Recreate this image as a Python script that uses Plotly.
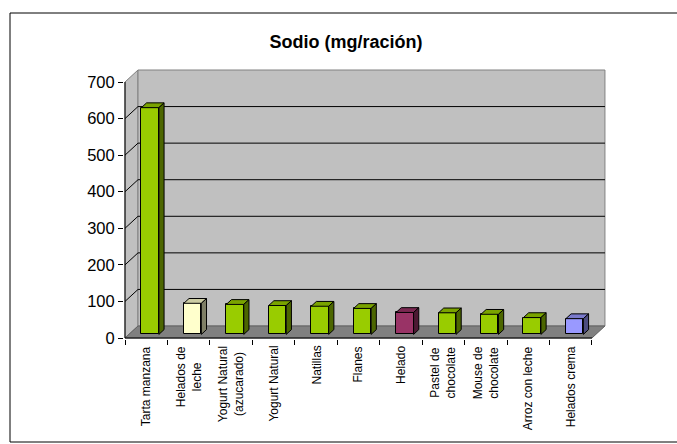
import plotly.graph_objects as go

# ---- data -------------------------------------------------------------
categorias = [
    "Tarta manzana",
    "Helados de<br>leche",
    "Yogurt Natural<br>(azucarado)",
    "Yogurt Natural",
    "Natillas",
    "Flanes",
    "Helado",
    "Pastel de<br>chocolate",
    "Mouse de<br>chocolate",
    "Arroz con leche",
    "Helados crema",
]
sodio = [620, 85, 82, 79, 77, 71, 60, 59, 55, 46, 43]
colores = ["#99CC00", "#FFFFCC", "#99CC00", "#99CC00", "#99CC00", "#99CC00",
           "#993366", "#99CC00", "#99CC00", "#99CC00", "#9999FF"]
ticks_y = [0, 100, 200, 300, 400, 500, 600, 700]
titulo = "Sodio (mg/ración)"

# ---- geometry of the pseudo-3D frame ----------------------------------
FIG_W, FIG_H = 677, 444
ORIG_X, ORIG_Y = 125, 338          # pixel position of (0, 0) on the front plane
PX_CAT = 42.45                     # pixels per category
PX_VAL = 256 / 700                 # pixels per mg
DEPTH_X = 13 / PX_CAT              # depth offset of back wall, data units
DEPTH_Y = 12 / PX_VAL
F0, F1 = 0.30, 0.70                # front/back of each bar as fraction of depth
BAR_W = 17.5 / PX_CAT
Y_TOP = ticks_y[-1]
N = len(categorias)

M_L, M_R, M_T, M_B = 124, 65, 55, 105
plot_w = FIG_W - M_L - M_R
plot_h = FIG_H - M_T - M_B
x_min = (M_L - ORIG_X) / PX_CAT
x_max = x_min + plot_w / PX_CAT
y_min = -((FIG_H - M_B) - ORIG_Y) / PX_VAL
y_max = y_min + plot_h / PX_VAL


def shade(hex_color, k):
    h = hex_color.lstrip("#")
    r, g, b = (int(h[i:i + 2], 16) for i in (0, 2, 4))
    return "rgb({},{},{})".format(int(r * k), int(g * k), int(b * k))


fig = go.Figure()

# walls, floor, gridlines and axis lines
shapes = []
shapes.append(dict(type="path", xref="x", yref="y", layer="below",
                   path=f"M 0,0 L {DEPTH_X},{DEPTH_Y} L {DEPTH_X},{Y_TOP + DEPTH_Y} L 0,{Y_TOP} Z",
                   fillcolor="#C0C0C0", line=dict(color="#808080", width=1)))
shapes.append(dict(type="rect", xref="x", yref="y", layer="below",
                   x0=DEPTH_X, y0=DEPTH_Y, x1=N + DEPTH_X, y1=Y_TOP + DEPTH_Y,
                   fillcolor="#C0C0C0", line=dict(color="#808080", width=1)))
shapes.append(dict(type="path", xref="x", yref="y", layer="below",
                   path=f"M 0,0 L {N},0 L {N + DEPTH_X},{DEPTH_Y} L {DEPTH_X},{DEPTH_Y} Z",
                   fillcolor="#808080", line=dict(color="#606060", width=1)))
for v in ticks_y[1:-1]:
    shapes.append(dict(type="line", xref="x", yref="y", layer="below",
                       x0=DEPTH_X, y0=v + DEPTH_Y, x1=N + DEPTH_X, y1=v + DEPTH_Y,
                       line=dict(color="black", width=1)))
    shapes.append(dict(type="line", xref="x", yref="y", layer="below",
                       x0=0, y0=v, x1=DEPTH_X, y1=v + DEPTH_Y,
                       line=dict(color="black", width=1)))
shapes.append(dict(type="line", xref="x", yref="y", layer="below",
                   x0=0, y0=0, x1=0, y1=Y_TOP, line=dict(color="black", width=1)))
shapes.append(dict(type="line", xref="x", yref="y", layer="below",
                   x0=0, y0=0, x1=N, y1=0, line=dict(color="black", width=1)))

# outer chart frame
def px_to_paper_x(px):
    return (px - M_L) / plot_w


def px_to_paper_y(py):
    return ((FIG_H - M_B) - py) / plot_h


shapes.append(dict(type="rect", xref="paper", yref="paper",
                   x0=px_to_paper_x(10), y0=px_to_paper_y(442),
                   x1=px_to_paper_x(700), y1=px_to_paper_y(13),
                   line=dict(color="black", width=1), fillcolor="rgba(0,0,0,0)"))

# front faces of the bars
centros = [i + 0.5 for i in range(N)]
base0 = F0 * DEPTH_Y
fig.add_trace(go.Bar(
    x=[c + F0 * DEPTH_X for c in centros], y=sodio, base=[base0] * N,
    width=BAR_W, marker=dict(color=colores, line=dict(color="black", width=1)),
    hoverinfo="skip", showlegend=False,
))

# top and side faces
ddx = (F1 - F0) * DEPTH_X
ddy = (F1 - F0) * DEPTH_Y
for c, v, col in zip(centros, sodio, colores):
    xl = c + F0 * DEPTH_X - BAR_W / 2
    xr = xl + BAR_W
    top = v + base0
    fig.add_trace(go.Scatter(
        x=[xl, xr, xr + ddx, xl + ddx, xl], y=[top, top, top + ddy, top + ddy, top],
        mode="lines", fill="toself", fillcolor=shade(col, 0.8),
        line=dict(color="black", width=1), hoverinfo="skip", showlegend=False))
    fig.add_trace(go.Scatter(
        x=[xr, xr + ddx, xr + ddx, xr, xr], y=[base0, base0 + ddy, top + ddy, top, base0],
        mode="lines", fill="toself", fillcolor=shade(col, 0.5),
        line=dict(color="black", width=1), hoverinfo="skip", showlegend=False))

# category labels
annotations = []
for c, txt in zip(centros, categorias):
    annotations.append(dict(
        x=c, y=0, xref="x", yref="y", text=txt, showarrow=False,
        textangle=-90, xanchor="center", yanchor="top", yshift=-6, align="center",
        font=dict(family="Liberation Sans, Arial, sans-serif", size=12, color="black")))

fig.update_layout(
    width=FIG_W, height=FIG_H,
    margin=dict(l=M_L, r=M_R, t=M_T, b=M_B),
    paper_bgcolor="white", plot_bgcolor="white",
    title=dict(text=f"<b>{titulo}</b>", x=346 / FIG_W, xanchor="center",
               y=1 - 41.5 / FIG_H, yanchor="middle", yref="container",
               font=dict(family="Liberation Sans, Arial, sans-serif", size=18, color="black")),
    xaxis=dict(range=[x_min, x_max], tickmode="array", tickvals=list(range(N + 1)),
               showticklabels=False, ticks="outside", ticklen=5, tickcolor="black",
               showgrid=False, zeroline=False, showline=False, fixedrange=True),
    yaxis=dict(range=[y_min, y_max], tickmode="array", tickvals=ticks_y,
               ticks="outside", ticklen=5, tickcolor="black",
               tickfont=dict(family="Liberation Sans, Arial, sans-serif", size=16.5, color="black"),
               showgrid=False, zeroline=False, showline=False, fixedrange=True),
    shapes=shapes,
    annotations=annotations,
    bargap=0,
)

fig.write_html("out.html")
